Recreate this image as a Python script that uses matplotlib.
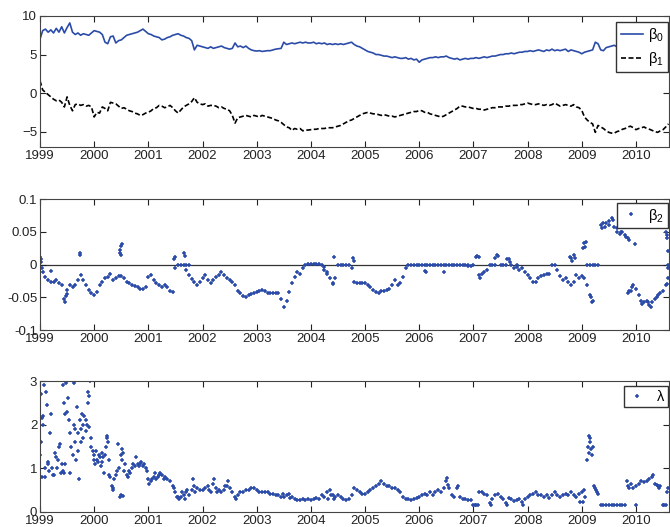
import numpy as np
import matplotlib.pyplot as plt

plt.rcParams['font.family'] = ['Liberation Sans', 'DejaVu Sans']
plt.rcParams['mathtext.fontset'] = 'custom'
plt.rcParams['mathtext.rm'] = 'Liberation Sans'
plt.rcParams['mathtext.it'] = 'Liberation Sans'

# time grid (decimal years, every 0.05 yr)
t = np.round(np.arange(1999.0, 2010.6001, 0.05), 2)

beta0 = [
    7.0, 8.1, 8.3, 7.9, 8.2, 7.8, 8.4, 7.9, 8.6, 7.8, 8.5, 9.1, 7.9, 7.6, 7.8, 7.5, 7.7, 7.6, 7.5, 7.8,
    8.1, 8.0, 7.9, 7.6, 6.6, 6.4, 7.3, 7.4, 6.5, 6.8, 6.9, 7.2, 7.5, 7.6, 7.7, 7.8, 7.9, 8.1, 8.3, 8.0,
    7.7, 7.6, 7.4, 7.3, 7.2, 6.9, 7.0, 7.2, 7.3, 7.5, 7.6, 7.7, 7.5, 7.4, 7.2, 7.1, 6.8, 5.6, 6.2, 6.1,
    6.0, 5.9, 5.8, 6.0, 5.8, 5.9, 6.0, 6.1, 5.9, 5.8, 5.7, 5.8, 6.5, 6.0, 6.1, 5.9, 6.1, 5.8, 5.6, 5.5,
    5.45, 5.5, 5.4, 5.45, 5.5, 5.5, 5.6, 5.7, 5.75, 5.8, 6.6, 6.3, 6.4, 6.5, 6.4, 6.5, 6.6, 6.5, 6.6, 6.5,
    6.5, 6.6, 6.4, 6.5, 6.4, 6.5, 6.3, 6.4, 6.3, 6.4, 6.3, 6.4, 6.3, 6.4, 6.5, 6.6, 6.3, 6.1, 6.0, 5.8,
    5.6, 5.4, 5.3, 5.2, 5.0, 5.0, 4.9, 4.8, 4.8, 4.7, 4.6, 4.7, 4.6, 4.5, 4.5, 4.6, 4.4, 4.5, 4.3, 4.4,
    4.0, 4.3, 4.4, 4.5, 4.6, 4.6, 4.7, 4.6, 4.7, 4.7, 4.8, 4.6, 4.5, 4.4, 4.5, 4.3, 4.4, 4.5, 4.4, 4.5,
    4.5, 4.6, 4.5, 4.6, 4.7, 4.6, 4.7, 4.8, 4.8, 4.9, 5.0, 5.0, 5.1, 5.1, 5.2, 5.1, 5.2, 5.3, 5.3, 5.4,
    5.4, 5.5, 5.4, 5.5, 5.6, 5.5, 5.4, 5.6, 5.5, 5.7, 5.5, 5.6, 5.5, 5.6, 5.7, 5.4, 5.6, 5.5, 5.4, 5.3,
    5.1, 5.3, 5.4, 5.5, 5.6, 6.6, 6.4, 5.6, 5.5, 5.9, 6.0, 6.1, 6.2, 6.0, 6.1, 6.0, 6.1, 6.2, 6.1, 6.2,
    6.2, 6.3, 6.2, 6.3, 6.4, 6.3, 6.2, 6.3, 6.2, 6.3, 6.1, 5.8, 5.7,
]

beta1 = [
    1.6, 0.4, 0.1, -0.2, -0.5, -0.8, -1.0, -0.9, -1.2, -1.8, -0.5, -1.6, -2.3, -1.5, -1.4, -1.6, -1.5, -1.7, -1.6, -1.8,
    -3.1, -2.5, -2.6, -1.8, -2.0, -2.3, -1.2, -1.3, -1.4, -1.7, -2.0, -1.9, -2.1, -2.3, -2.4, -2.6, -2.7, -2.9, -2.8, -2.6,
    -2.5, -2.3, -2.0, -1.9, -1.6, -1.7, -1.9, -1.8, -1.6, -1.9, -2.3, -2.6, -2.2, -1.8, -1.6, -1.4, -1.1, -0.6, -1.2, -1.4,
    -1.5, -1.4, -1.7, -1.6, -1.6, -1.7, -1.9, -1.8, -2.0, -2.1, -2.3, -2.9, -3.9, -3.2, -3.1, -3.0, -2.9, -3.0, -3.1, -2.9,
    -3.0, -3.1, -2.9, -3.0, -3.1, -3.2, -3.3, -3.5, -3.6, -3.8, -4.1, -4.4, -4.5, -4.85, -4.6, -4.7, -4.6, -4.9, -4.8, -4.8,
    -4.75, -4.7, -4.7, -4.6, -4.6, -4.6, -4.5, -4.5, -4.5, -4.4, -4.3, -4.2, -4.0, -3.8, -3.6, -3.5, -3.3, -3.1, -2.9, -2.7,
    -2.6, -2.5, -2.6, -2.7, -2.7, -2.8, -2.9, -2.8, -2.9, -3.0, -3.0, -3.1, -3.0, -2.9, -2.8, -2.7, -2.6, -2.5, -2.4, -2.4,
    -2.25, -2.3, -2.5, -2.5, -2.7, -2.8, -2.9, -3.0, -3.1, -3.0, -2.8, -2.6, -2.4, -2.2, -2.0, -1.7, -1.7, -1.8, -1.8, -1.9,
    -2.0, -2.0, -2.1, -2.1, -2.2, -2.1, -2.0, -1.9, -1.9, -1.8, -1.8, -1.8, -1.7, -1.7, -1.6, -1.6, -1.6, -1.5, -1.5, -1.4,
    -1.3, -1.4, -1.5, -1.5, -1.4, -1.5, -1.6, -1.5, -1.6, -1.5, -1.3, -1.5, -1.7, -1.6, -1.5, -1.6, -1.7, -1.5, -1.8, -1.9,
    -2.25, -3.1, -3.5, -3.8, -4.0, -5.1, -4.2, -4.4, -4.6, -4.9, -5.1, -5.2, -5.2, -5.0, -4.9, -4.7, -4.6, -4.4, -4.3, -4.5,
    -4.75, -4.6, -4.5, -4.4, -4.6, -4.7, -4.85, -5.0, -5.1, -4.9, -4.75, -4.4, -4.0,
]

beta2 = [
    0.012, -0.011, -0.019, -0.024, -0.027, -0.027, -0.024, -0.029, -0.032, -0.052, -0.039, -0.032, -0.034, -0.032, -0.024, -0.016, -0.024, -0.032, -0.039, -0.044,
    -0.047, -0.042, -0.032, -0.027, -0.021, -0.019, -0.015, -0.024, -0.020, -0.017, -0.017, -0.021, -0.027, -0.029, -0.032, -0.033, -0.034, -0.037, -0.038, -0.034,
    -0.019, -0.016, -0.024, -0.029, -0.032, -0.034, -0.032, -0.034, -0.041, -0.042, -0.006, 0.0, 0.0, 0.0, -0.009, -0.016, -0.022, -0.027, -0.032, -0.027,
    -0.021, -0.016, -0.024, -0.029, -0.024, -0.019, -0.016, -0.012, -0.016, -0.020, -0.024, -0.027, -0.032, -0.041, -0.044, -0.048, -0.049, -0.047, -0.045, -0.044,
    -0.042, -0.041, -0.039, -0.041, -0.043, -0.043, -0.043, -0.043, -0.044, -0.052, -0.065, -0.055, -0.042, -0.029, -0.019, -0.012, -0.015, -0.006, 0.0, 0.0015,
    0.0015, 0.0015, 0.0015, 0.001, 0.0, -0.004, -0.012, -0.021, -0.028, -0.021, 0.0, 0.0, 0.0, 0.0, -0.001, -0.006, -0.027, -0.029, -0.028, -0.029,
    -0.029, -0.032, -0.034, -0.039, -0.042, -0.043, -0.041, -0.041, -0.039, -0.038, -0.032, -0.024, -0.032, -0.028, -0.019, -0.006, 0.0, 0.0, 0.0, 0.0,
    0.0, 0.0, 0.0, 0.0, 0.0, 0.0, 0.0, 0.0, 0.0, 0.0, 0.0, 0.0, 0.0, 0.0, 0.0, 0.0, 0.0, 0.0, -0.001, -0.002,
    -0.001, 0.012, -0.016, -0.015, -0.012, -0.009, 0.0, 0.0, 0.0, 0.013, 0.0, 0.0, 0.0, 0.009, -0.001, -0.006, -0.004, -0.009, -0.006, -0.012,
    -0.016, -0.020, -0.026, -0.027, -0.020, -0.017, -0.016, -0.014, -0.015, 0.0, 0.0, -0.009, -0.017, -0.024, -0.021, -0.027, -0.032, -0.026, -0.016, -0.021,
    -0.017, -0.021, -0.032, -0.047, -0.055, 0.0, 0.0, 0.060, 0.063, 0.064, 0.066, 0.071, 0.058, 0.050, 0.047, 0.050, 0.045, 0.040, -0.041, -0.032,
    -0.037, -0.047, -0.055, -0.057, -0.055, -0.062, -0.057, -0.052, -0.047, -0.044, -0.041, -0.032, -0.006,
]

# scattered beta2 points off the main path
beta2_xt = [1999.01, 1999.02, 1999.03, 1999.2, 1999.46, 1999.48, 1999.5, 1999.73, 1999.74,
            2000.47, 2000.48, 2000.49, 2000.5, 2000.52, 2001.47, 2001.49, 2001.65, 2001.67,
            2001.7, 2001.75, 2004.25, 2004.3, 2004.4, 2004.42, 2004.78, 2004.79, 2006.1,
            2006.12, 2006.45, 2006.9, 2007.07, 2007.1, 2007.12, 2007.4, 2007.43, 2007.62,
            2007.67, 2007.8, 2008.79, 2008.8, 2008.82, 2008.85, 2008.87, 2009.03, 2009.05,
            2009.06, 2009.08, 2009.1, 2009.15, 2009.17, 2009.19, 2009.2, 2009.38, 2009.42,
            2009.5, 2009.58, 2009.65, 2009.72, 2009.82, 2009.85, 2009.87, 2009.88, 2009.92,
            2009.99, 2010.12, 2010.22, 2010.28, 2010.38, 2010.55, 2010.57, 2010.58, 2010.59,
            2010.6, 2010.6, 2010.58]
beta2_xv = [0.008, 0.004, -0.005, -0.01, -0.058, -0.048, -0.045, 0.017, 0.015,
            0.018, 0.022, 0.014, 0.028, 0.031, 0.008, 0.012, 0.017, 0.013,
            0.0, 0.0, -0.008, -0.015, -0.03, 0.012, 0.01, 0.005, -0.01,
            -0.012, -0.012, -0.003, 0.013, 0.012, -0.02, 0.01, 0.015, 0.008,
            0.004, 0.0, 0.012, 0.01, 0.005, 0.015, 0.01, 0.025, 0.033,
            0.027, 0.035, 0.0, 0.0, -0.05, -0.058, 0.0, 0.055, 0.058,
            0.06, 0.068, 0.055, 0.05, 0.042, -0.043, -0.04, 0.038, -0.035,
            0.032, -0.06, -0.058, -0.065, -0.05, 0.05, 0.045, 0.04, 0.0,
            0.02, -0.02, -0.03]

lam = [
    1.3, 2.0, 0.8, 1.1, 2.25, 0.85, 1.25, 1.5, 1.1, 0.9, 2.3, 1.8, 1.3, 1.6, 1.8, 1.9, 2.0, 2.1, 1.95, 1.5,
    1.3, 1.2, 1.25, 1.15, 1.3, 1.6, 0.8, 0.55, 0.85, 1.0, 1.3, 0.95, 0.85, 0.95, 1.0, 1.05, 1.1, 1.1, 1.05, 1.0,
    0.75, 0.7, 0.8, 0.75, 0.85, 0.85, 0.8, 0.75, 0.7, 0.6, 0.45, 0.35, 0.35, 0.4, 0.45, 0.4, 0.5, 0.6, 0.55, 0.5,
    0.5, 0.55, 0.6, 0.45, 0.65, 0.55, 0.5, 0.45, 0.5, 0.6, 0.55, 0.45, 0.35, 0.4, 0.45, 0.45, 0.5, 0.5, 0.55, 0.55,
    0.5, 0.45, 0.45, 0.45, 0.45, 0.42, 0.42, 0.4, 0.38, 0.35, 0.35, 0.4, 0.42, 0.35, 0.3, 0.28, 0.27, 0.3, 0.28, 0.3,
    0.28, 0.3, 0.32, 0.3, 0.4, 0.35, 0.45, 0.5, 0.4, 0.35, 0.38, 0.35, 0.3, 0.27, 0.3, 0.4, 0.55, 0.5, 0.45, 0.42,
    0.42, 0.45, 0.5, 0.55, 0.6, 0.65, 0.7, 0.65, 0.6, 0.6, 0.55, 0.55, 0.5, 0.45, 0.35, 0.3, 0.3, 0.28, 0.3, 0.32,
    0.35, 0.4, 0.42, 0.38, 0.45, 0.4, 0.45, 0.5, 0.45, 0.55, 0.7, 0.55, 0.4, 0.35, 0.55, 0.35, 0.3, 0.3, 0.28, 0.27,
    0.17, 0.17, 0.45, 0.45, 0.42, 0.4, 0.2, 0.3, 0.38, 0.42, 0.35, 0.3, 0.2, 0.32, 0.3, 0.25, 0.28, 0.3, 0.22, 0.3,
    0.35, 0.4, 0.42, 0.45, 0.4, 0.38, 0.35, 0.4, 0.32, 0.38, 0.45, 0.38, 0.35, 0.4, 0.42, 0.38, 0.45, 0.4, 0.35, 0.42,
    0.45, 0.5, 1.2, 1.7, 1.5, 0.55, 0.42, 0.17, 0.17, 0.17, 0.17, 0.17, 0.17, 0.17, 0.17, 0.17, 0.17, 0.6, 0.65, 0.55,
    0.6, 0.65, 0.7, 0.68, 0.72, 0.75, 0.8, 0.65, 0.6, 0.6, 0.17, 0.17, 0.55,
]

# scattered lambda points off the main path
lam_xt = [1999.01, 1999.02, 1999.03, 1999.04, 1999.06, 1999.08, 1999.09, 1999.11, 1999.12,
          1999.14, 1999.16, 1999.19, 1999.22, 1999.24, 1999.28, 1999.31, 1999.33, 1999.37,
          1999.39, 1999.42, 1999.43, 1999.44, 1999.46, 1999.47, 1999.48, 1999.52, 1999.54,
          1999.56, 1999.58, 1999.62, 1999.63, 1999.64, 1999.66, 1999.68, 1999.71, 1999.72,
          1999.74, 1999.76, 1999.78, 1999.79, 1999.82, 1999.84, 1999.87, 1999.88, 1999.89,
          1999.90, 1999.92, 1999.94, 1999.97, 1999.99, 2000.02, 2000.04, 2000.07, 2000.09,
          2000.12, 2000.14, 2000.17, 2000.19, 2000.22, 2000.23, 2000.24, 2000.27, 2000.28,
          2000.32, 2000.34, 2000.37, 2000.42, 2000.44, 2000.47, 2000.49, 2000.51, 2000.52,
          2000.53, 2000.54, 2000.57, 2000.62, 2000.66, 2000.72, 2000.77, 2000.82, 2000.87,
          2000.92, 2000.97, 2001.02, 2001.07, 2001.12, 2001.18, 2001.22, 2001.28, 2001.47,
          2001.52, 2001.57, 2001.62, 2001.67, 2001.72, 2001.82, 2001.87, 2002.12, 2002.22,
          2002.27, 2002.42, 2002.47, 2002.62, 2003.48, 2003.62, 2004.32, 2004.37, 2004.42,
          2006.52, 2006.54, 2006.72, 2007.02, 2007.08, 2007.32, 2007.62, 2007.92, 2008.97,
          2009.02, 2009.06, 2009.12, 2009.13, 2009.14, 2009.16, 2009.17, 2009.18, 2009.22,
          2009.26, 2009.28, 2009.83, 2009.87, 2010.0, 2010.32, 2010.38, 2010.43, 2010.52,
          2010.58]
lam_xv = [1.6, 2.7, 2.15, 0.8, 2.2, 2.9, 1.0, 2.75, 2.45,
          1.15, 0.95, 1.8, 1.0, 0.85, 1.35, 1.0, 1.2, 1.55,
          0.9, 0.95, 2.9, 2.5, 2.25, 1.1, 2.95, 2.6, 2.1,
          0.9, 1.5, 2.95, 2.0, 1.9, 1.2, 2.4, 1.4, 0.75,
          2.1, 1.6, 2.25, 1.7, 2.2, 1.85, 2.0, 2.75, 2.5,
          2.65, 3.0, 1.7, 1.4, 1.2, 1.1, 1.4, 1.15, 1.3,
          1.05, 1.35, 1.25, 0.9, 1.5, 1.7, 1.75, 1.2, 0.85,
          0.6, 0.5, 0.75, 0.95, 1.55, 0.35, 0.38, 1.45, 1.2,
          1.35, 0.37, 1.1, 0.8, 0.9, 1.1, 1.25, 1.05, 1.15,
          1.1, 0.95, 0.65, 0.75, 0.9, 0.8, 0.9, 0.75, 0.55,
          0.35, 0.3, 0.45, 0.3, 0.5, 0.75, 0.45, 0.5, 0.75,
          0.45, 0.6, 0.7, 0.3, 0.42, 0.33, 0.3, 0.38, 0.3,
          0.78, 0.62, 0.6, 0.17, 0.17, 0.17, 0.17, 0.17, 0.22,
          0.23, 0.35, 1.5, 1.35, 1.75, 1.6, 1.45, 1.3, 0.6,
          0.5, 0.45, 0.7, 0.55, 0.17, 0.85, 0.62, 0.55, 0.17,
          0.45]

years = list(range(1999, 2011))
blue = '#2B4BA8'
W, H = 670, 527

fig = plt.figure(figsize=(6.7, 5.27), dpi=100)


def make_axes(top, bottom):
    ax = fig.add_axes([40 / W, 1 - bottom / H, 629 / W, (bottom - top) / H])
    ax.set_xlim(1999, 2010.61)
    ax.set_xticks(years)
    ax.set_xticklabels([str(y) for y in years])
    ax.tick_params(direction='in', top=True, right=True, length=4, width=0.8,
                   labelsize=9.5, colors='#222222', pad=2)
    for s in ax.spines.values():
        s.set_color('#444444')
        s.set_linewidth(0.8)
    return ax


leg_kw = dict(loc='upper right', borderaxespad=0, fancybox=False,
              edgecolor='#333333', fontsize=10.5, framealpha=1)

ax1 = make_axes(16, 147)
ax1.plot(t, beta0, color=blue, lw=1.2, label=r'$\beta_0$')
ax1.plot(t, beta1, color='black', lw=1.2, ls=(0, (3, 1.5)), label=r'$\beta_1$')
ax1.set_ylim(-7, 10)
ax1.set_yticks([-5, 0, 5, 10])
ax1.legend(bbox_to_anchor=(0.998, 0.955), handlelength=1.5, handletextpad=0.35,
           borderpad=0.3, labelspacing=0.4, **leg_kw)

ax2 = make_axes(199, 330)
ax2.axhline(0, color='#333333', lw=0.9, zorder=1)
ax2.plot(t, beta2, '+', color=blue, ms=3.5, mew=1.1, label=r'$\beta_2$')
ax2.plot(beta2_xt, beta2_xv, '+', color=blue, ms=3.5, mew=1.1)
ax2.set_ylim(-0.1, 0.1)
ax2.set_yticks([-0.1, -0.05, 0, 0.05, 0.1])
ax2.set_yticklabels(['-0.1', '-0.05', '0', '0.05', '0.1'])
ax2.legend(bbox_to_anchor=(0.998, 0.97), handlelength=1.4, handletextpad=0.5,
           numpoints=1, borderpad=0.25, **leg_kw)

ax3 = make_axes(381, 512)
ax3.plot(t, lam, '+', color=blue, ms=3.5, mew=1.1, label=r'$\lambda$')
ax3.plot(lam_xt, lam_xv, '+', color=blue, ms=3.5, mew=1.1)
ax3.set_ylim(0, 3)
ax3.set_yticks([0, 1, 2, 3])
ax3.legend(bbox_to_anchor=(0.998, 0.96), handlelength=1.4, handletextpad=0.6,
           numpoints=1, borderpad=0.2, **leg_kw)

fig.savefig('out.png', dpi=100)
